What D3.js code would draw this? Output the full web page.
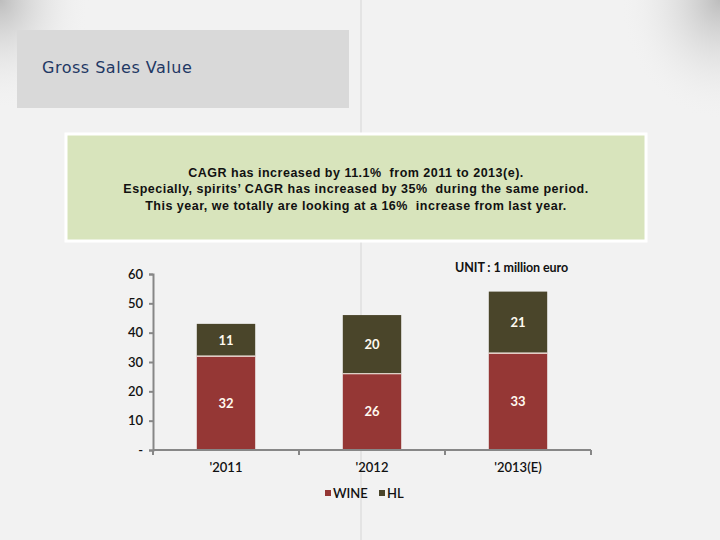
<!DOCTYPE html>
<html>
<head>
<meta charset="utf-8">
<script src="https://cdn.jsdelivr.net/npm/d3@7"></script>
<style>
  body { margin: 0; background: #f2f2f2; }
  svg { display: block; }
  .note { white-space: pre; }
</style>
</head>
<body>
<div class="graphHere"></div>
<script>
var years = ["'2011", "'2012", "'2013(E)"];
var wine = [32, 26, 33];
var hl = [11, 20, 21];
var yTicks = [0, 10, 20, 30, 40, 50, 60];
var seriesNames = ["WINE", "HL"];
var noteLines = [
  "CAGR has increased by 11.1%  from 2011 to 2013(e).",
  "Especially, spirits\u2019 CAGR has increased by 35%  during the same period.",
  "This year, we totally are looking at a 16%  increase from last year."
];

var colors = { WINE: "#953735", HL: "#4a452a" };

var svg = d3.select(".graphHere").append("svg")
  .attr("width", 720)
  .attr("height", 540);

// background with shaded corners
var defs = svg.append("defs");
var gl = defs.append("radialGradient").attr("id", "cornerL")
  .attr("cx", 0).attr("cy", 0).attr("r", 1);
gl.append("stop").attr("offset", "0").attr("stop-color", "#bdbdbd");
gl.append("stop").attr("offset", "1").attr("stop-color", "#f2f2f2").attr("stop-opacity", 0);
var gr = defs.append("radialGradient").attr("id", "cornerR")
  .attr("cx", 1).attr("cy", 0).attr("r", 1);
gr.append("stop").attr("offset", "0").attr("stop-color", "#bdbdbd");
gr.append("stop").attr("offset", "1").attr("stop-color", "#f2f2f2").attr("stop-opacity", 0);

svg.append("rect").attr("width", 720).attr("height", 540).attr("fill", "#f2f2f2");
svg.append("rect").attr("x", 0).attr("y", 0).attr("width", 90).attr("height", 110).attr("fill", "url(#cornerL)");
svg.append("rect").attr("x", 620).attr("y", 0).attr("width", 100).attr("height", 120).attr("fill", "url(#cornerR)");

svg.append("line")
  .attr("x1", 361).attr("x2", 361).attr("y1", 0).attr("y2", 540)
  .attr("stroke", "#d6d6d6").attr("stroke-width", 1);

// title box
svg.append("rect").attr("x", 17).attr("y", 30).attr("width", 332).attr("height", 78).attr("fill", "#d9d9d9");
svg.append("text")
  .attr("x", 42).attr("y", 73)
  .attr("font-family", "DejaVu Sans").attr("font-size", 16)
  .attr("letter-spacing", 0.5)
  .attr("fill", "#1f3864")
  .text("Gross Sales Value");

// note box
svg.append("rect").attr("x", 66).attr("y", 134).attr("width", 580).attr("height", 107)
  .attr("fill", "#d8e4bc").attr("stroke", "#ffffff").attr("stroke-width", 3);
svg.selectAll(".note").data(noteLines).enter().append("text")
  .attr("class", "note")
  .attr("x", 356)
  .attr("y", function(d, i){ return 177 + i * 16.3; })
  .attr("text-anchor", "middle")
  .attr("font-family", "Liberation Sans").attr("font-size", 12.5)
  .attr("font-weight", "bold").attr("letter-spacing", 0.5)
  .attr("fill", "#111")
  .text(function(d){ return d; });

// chart
var scalex = d3.scaleBand().domain(years).range([153, 591]).paddingInner(0.6).paddingOuter(0.3);
var scaley = d3.scaleLinear().domain([0, 60]).range([450, 274]);
var catBand = d3.scaleBand().domain(years).range([153, 591]);

var axisColor = "#878787";

// y axis
var yAxis = svg.append("g")
  .attr("transform", "translate(153,0)")
  .call(d3.axisLeft(scaley).tickValues(yTicks).tickSize(4).tickPadding(6)
    .tickFormat(function(d){ return d === 0 ? "-" : d; }));
yAxis.select(".domain").attr("stroke", axisColor).attr("stroke-width", 2);
yAxis.selectAll(".tick line").attr("stroke", axisColor).attr("stroke-width", 2);
yAxis.selectAll(".tick text")
  .attr("font-family", "Lato").attr("font-size", 13).attr("font-weight", 600).attr("fill", "#111");

// bars
var stack = years.map(function(y, i){ return { year: y, WINE: wine[i], HL: hl[i] }; });
var series = d3.stack().keys(seriesNames)(stack);

var groups = svg.selectAll(".series").data(series).enter().append("g")
  .attr("class", "series")
  .attr("fill", function(d){ return colors[d.key]; });

groups.selectAll("rect").data(function(d){ return d; }).enter().append("rect")
  .attr("x", function(d){ return scalex(d.data.year); })
  .attr("y", function(d){ return scaley(d[1]); })
  .attr("width", scalex.bandwidth())
  .attr("height", function(d){ return scaley(d[0]) - scaley(d[1]); });

// separator between segments
svg.selectAll(".sep").data(stack).enter().append("line")
  .attr("x1", function(d){ return scalex(d.year); })
  .attr("x2", function(d){ return scalex(d.year) + scalex.bandwidth(); })
  .attr("y1", function(d){ return scaley(d.WINE); })
  .attr("y2", function(d){ return scaley(d.WINE); })
  .attr("stroke", "#fff4ee").attr("stroke-width", 1.2);

// value labels
groups.selectAll("text").data(function(d){ return d; }).enter().append("text")
  .attr("x", function(d){ return scalex(d.data.year) + scalex.bandwidth() / 2; })
  .attr("y", function(d){ return (scaley(d[0]) + scaley(d[1])) / 2 + 4.5; })
  .attr("text-anchor", "middle")
  .attr("font-family", "Lato").attr("font-size", 13).attr("font-weight", "bold")
  .attr("fill", "#fffaf0")
  .text(function(d){ return d[1] - d[0]; });

// x axis
var xAxisG = svg.append("g").attr("transform", "translate(0,450)");
xAxisG.append("line").attr("x1", 153).attr("x2", 591).attr("y1", 0).attr("y2", 0)
  .attr("stroke", axisColor).attr("stroke-width", 2);
var bounds = years.map(function(y){ return catBand(y); }).concat([591]);
xAxisG.selectAll(".xt").data(bounds).enter().append("line")
  .attr("x1", function(d){ return d; }).attr("x2", function(d){ return d; })
  .attr("y1", 0).attr("y2", 5)
  .attr("stroke", axisColor).attr("stroke-width", 2);
xAxisG.selectAll(".xl").data(years).enter().append("text")
  .attr("x", function(d){ return catBand(d) + catBand.bandwidth() / 2; })
  .attr("y", 22)
  .attr("text-anchor", "middle")
  .attr("font-family", "Lato").attr("font-size", 13).attr("font-weight", 600).attr("fill", "#111")
  .text(function(d){ return d; });

// unit
svg.append("text")
  .attr("x", 568).attr("y", 272)
  .attr("text-anchor", "end")
  .attr("font-family", "Lato").attr("font-size", 12.5).attr("font-weight", "bold")
  .attr("letter-spacing", -0.1)
  .attr("fill", "#111")
  .text("UNIT : 1 million euro");

// legend
var legendX = [325, 379];
var legend = svg.selectAll(".legend").data(seriesNames).enter().append("g")
  .attr("class", "legend")
  .attr("transform", function(d, i){ return "translate(" + legendX[i] + ",493)"; });
legend.append("rect").attr("x", 0).attr("y", -3).attr("width", 6).attr("height", 6)
  .attr("fill", function(d){ return colors[d]; });
legend.append("text").attr("x", 8).attr("y", 5)
  .attr("font-family", "Lato").attr("font-size", 13).attr("font-weight", 600).attr("fill", "#111")
  .text(function(d){ return d; });
</script>
</body>
</html>
